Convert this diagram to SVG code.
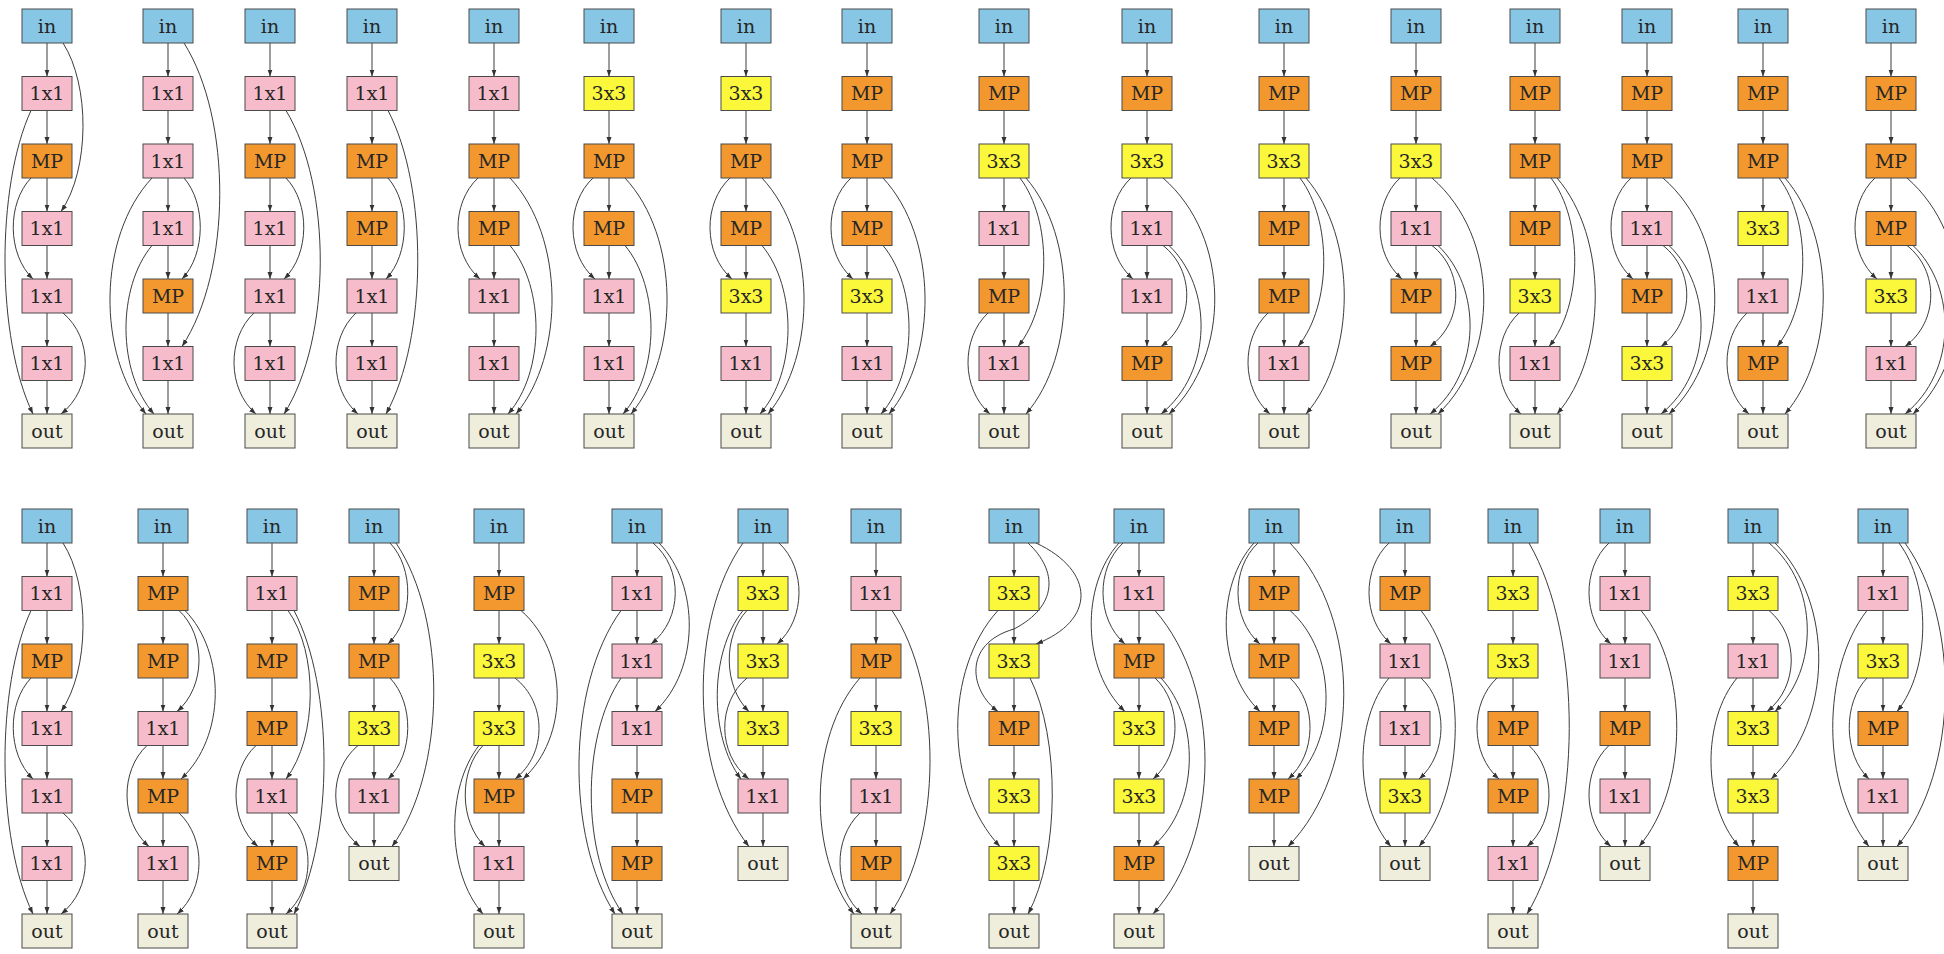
<svg xmlns="http://www.w3.org/2000/svg" width="1944" height="954" viewBox="0 0 1944 954">
<style>
.n rect{stroke:#4a4a4a;stroke-width:1}
.i rect{fill:#88c6e6}
.p rect{fill:#f6bccb}
.m rect{fill:#f2982f}
.y rect{fill:#fbf83c}
.o rect{fill:#efeedc}
text{font-family:"DejaVu Serif","Liberation Serif",serif;font-size:19px;text-anchor:middle;fill:#262626}
.e{fill:none;stroke:#3c3c3c;stroke-width:1;marker-end:url(#a)}
</style>
<defs>
<marker id="a" markerWidth="8" markerHeight="6" refX="7" refY="3" orient="auto" markerUnits="userSpaceOnUse"><path d="M0,0.5L7,3L0,5.5z" fill="#333" stroke="none"/></marker>
<g id="c7"><path d="M0,17V50.5"/><path d="M0,84.5V118"/><path d="M0,152V185.5"/><path d="M0,219.5V253"/><path d="M0,287V320.5"/><path d="M0,354.5V388"/></g>
<g id="c6"><path d="M0,17V50.5"/><path d="M0,84.5V118"/><path d="M0,152V185.5"/><path d="M0,219.5V253"/><path d="M0,287V320.5"/></g>
<g id="eD"><path d="M16,17C43,59 43,143.5 14,185.5"/><path d="M-16,84.5C-51,160.5 -51,312 -14,388"/><path d="M-16,152C-40,177 -40,228 -14,253"/><path d="M16,287C46,312 46,363 14,388"/></g>
<g id="eA"><path d="M-16,152C-43,177 -43,228 -14,253"/><path d="M16,152C71,211 71,329 22,388"/><path d="M16,219.5C51,261.5 51,346 14,388"/></g>
<g id="eB"><path d="M16,152C48,194 48,278.5 14,320.5"/><path d="M22,152C73,211 73,329 22,388"/><path d="M-16,287C-43,312 -43,363 -14,388"/></g>
<g id="eC"><path d="M-16,152C-43,177 -43,228 -14,253"/><path d="M16,152C84,211 84,329 22,388"/><path d="M16,219.5C48,244.5 48,295.5 14,320.5"/><path d="M22,219.5C66,261.5 66,346 14,388"/></g>
</defs>

<!-- TOP ROW -->
<g id="t1" transform="translate(47,26)">
<g class="e" id="t1-edges"><use href="#c7"/><use href="#eD"/></g>
<g id="t1-0" class="n i"><rect x="-25" y="-17" width="50" height="34"/><text y="6.5">in</text></g>
<g id="t1-1" class="n p"><rect x="-25" y="50.5" width="50" height="34"/><text y="74">1x1</text></g>
<g id="t1-2" class="n m"><rect x="-25" y="118" width="50" height="34"/><text y="141.5">MP</text></g>
<g id="t1-3" class="n p"><rect x="-25" y="185.5" width="50" height="34"/><text y="209">1x1</text></g>
<g id="t1-4" class="n p"><rect x="-25" y="253" width="50" height="34"/><text y="276.5">1x1</text></g>
<g id="t1-5" class="n p"><rect x="-25" y="320.5" width="50" height="34"/><text y="344">1x1</text></g>
<g id="t1-6" class="n o"><rect x="-25" y="388" width="50" height="34"/><text y="411.5">out</text></g>
</g>

<g id="t2" transform="translate(168,26)">
<g class="e" id="t2-edges"><use href="#c7"/><path d="M16,17C64,93 64,244.5 14,320.5"/><path d="M16,152C38,177 38,228 14,253"/><path d="M-16,152C-71,211 -71,329 -22,388"/><path d="M-16,219.5C-51,261.5 -51,346 -14,388"/></g>
<g id="t2-0" class="n i"><rect x="-25" y="-17" width="50" height="34"/><text y="6.5">in</text></g>
<g id="t2-1" class="n p"><rect x="-25" y="50.5" width="50" height="34"/><text y="74">1x1</text></g>
<g id="t2-2" class="n p"><rect x="-25" y="118" width="50" height="34"/><text y="141.5">1x1</text></g>
<g id="t2-3" class="n p"><rect x="-25" y="185.5" width="50" height="34"/><text y="209">1x1</text></g>
<g id="t2-4" class="n m"><rect x="-25" y="253" width="50" height="34"/><text y="276.5">MP</text></g>
<g id="t2-5" class="n p"><rect x="-25" y="320.5" width="50" height="34"/><text y="344">1x1</text></g>
<g id="t2-6" class="n o"><rect x="-25" y="388" width="50" height="34"/><text y="411.5">out</text></g>
</g>

<g id="t3" transform="translate(270,26)">
<g class="e" id="t3-edges"><use href="#c7"/><path d="M16,84.5C62,160.5 62,312 14,388"/><path d="M16,152C40,177 40,228 14,253"/><path d="M-16,287C-43,312 -43,363 -14,388"/></g>
<g id="t3-0" class="n i"><rect x="-25" y="-17" width="50" height="34"/><text y="6.5">in</text></g>
<g id="t3-1" class="n p"><rect x="-25" y="50.5" width="50" height="34"/><text y="74">1x1</text></g>
<g id="t3-2" class="n m"><rect x="-25" y="118" width="50" height="34"/><text y="141.5">MP</text></g>
<g id="t3-3" class="n p"><rect x="-25" y="185.5" width="50" height="34"/><text y="209">1x1</text></g>
<g id="t3-4" class="n p"><rect x="-25" y="253" width="50" height="34"/><text y="276.5">1x1</text></g>
<g id="t3-5" class="n p"><rect x="-25" y="320.5" width="50" height="34"/><text y="344">1x1</text></g>
<g id="t3-6" class="n o"><rect x="-25" y="388" width="50" height="34"/><text y="411.5">out</text></g>
</g>

<g id="t4" transform="translate(372,26)">
<g class="e" id="t4-edges"><use href="#c7"/><path d="M16,84.5C56,160.5 56,312 14,388"/><path d="M16,152C38,177 38,228 14,253"/><path d="M-16,287C-43,312 -43,363 -14,388"/></g>
<g id="t4-0" class="n i"><rect x="-25" y="-17" width="50" height="34"/><text y="6.5">in</text></g>
<g id="t4-1" class="n p"><rect x="-25" y="50.5" width="50" height="34"/><text y="74">1x1</text></g>
<g id="t4-2" class="n m"><rect x="-25" y="118" width="50" height="34"/><text y="141.5">MP</text></g>
<g id="t4-3" class="n m"><rect x="-25" y="185.5" width="50" height="34"/><text y="209">MP</text></g>
<g id="t4-4" class="n p"><rect x="-25" y="253" width="50" height="34"/><text y="276.5">1x1</text></g>
<g id="t4-5" class="n p"><rect x="-25" y="320.5" width="50" height="34"/><text y="344">1x1</text></g>
<g id="t4-6" class="n o"><rect x="-25" y="388" width="50" height="34"/><text y="411.5">out</text></g>
</g>

<g id="t5" transform="translate(494,26)">
<g class="e" id="t5-edges"><use href="#c7"/><use href="#eA"/></g>
<g id="t5-0" class="n i"><rect x="-25" y="-17" width="50" height="34"/><text y="6.5">in</text></g>
<g id="t5-1" class="n p"><rect x="-25" y="50.5" width="50" height="34"/><text y="74">1x1</text></g>
<g id="t5-2" class="n m"><rect x="-25" y="118" width="50" height="34"/><text y="141.5">MP</text></g>
<g id="t5-3" class="n m"><rect x="-25" y="185.5" width="50" height="34"/><text y="209">MP</text></g>
<g id="t5-4" class="n p"><rect x="-25" y="253" width="50" height="34"/><text y="276.5">1x1</text></g>
<g id="t5-5" class="n p"><rect x="-25" y="320.5" width="50" height="34"/><text y="344">1x1</text></g>
<g id="t5-6" class="n o"><rect x="-25" y="388" width="50" height="34"/><text y="411.5">out</text></g>
</g>

<g id="t6" transform="translate(609,26)">
<g class="e" id="t6-edges"><use href="#c7"/><use href="#eA"/></g>
<g id="t6-0" class="n i"><rect x="-25" y="-17" width="50" height="34"/><text y="6.5">in</text></g>
<g id="t6-1" class="n y"><rect x="-25" y="50.5" width="50" height="34"/><text y="74">3x3</text></g>
<g id="t6-2" class="n m"><rect x="-25" y="118" width="50" height="34"/><text y="141.5">MP</text></g>
<g id="t6-3" class="n m"><rect x="-25" y="185.5" width="50" height="34"/><text y="209">MP</text></g>
<g id="t6-4" class="n p"><rect x="-25" y="253" width="50" height="34"/><text y="276.5">1x1</text></g>
<g id="t6-5" class="n p"><rect x="-25" y="320.5" width="50" height="34"/><text y="344">1x1</text></g>
<g id="t6-6" class="n o"><rect x="-25" y="388" width="50" height="34"/><text y="411.5">out</text></g>
</g>

<g id="t7" transform="translate(746,26)">
<g class="e" id="t7-edges"><use href="#c7"/><use href="#eA"/></g>
<g id="t7-0" class="n i"><rect x="-25" y="-17" width="50" height="34"/><text y="6.5">in</text></g>
<g id="t7-1" class="n y"><rect x="-25" y="50.5" width="50" height="34"/><text y="74">3x3</text></g>
<g id="t7-2" class="n m"><rect x="-25" y="118" width="50" height="34"/><text y="141.5">MP</text></g>
<g id="t7-3" class="n m"><rect x="-25" y="185.5" width="50" height="34"/><text y="209">MP</text></g>
<g id="t7-4" class="n y"><rect x="-25" y="253" width="50" height="34"/><text y="276.5">3x3</text></g>
<g id="t7-5" class="n p"><rect x="-25" y="320.5" width="50" height="34"/><text y="344">1x1</text></g>
<g id="t7-6" class="n o"><rect x="-25" y="388" width="50" height="34"/><text y="411.5">out</text></g>
</g>

<g id="t8" transform="translate(867,26)">
<g class="e" id="t8-edges"><use href="#c7"/><use href="#eA"/></g>
<g id="t8-0" class="n i"><rect x="-25" y="-17" width="50" height="34"/><text y="6.5">in</text></g>
<g id="t8-1" class="n m"><rect x="-25" y="50.5" width="50" height="34"/><text y="74">MP</text></g>
<g id="t8-2" class="n m"><rect x="-25" y="118" width="50" height="34"/><text y="141.5">MP</text></g>
<g id="t8-3" class="n m"><rect x="-25" y="185.5" width="50" height="34"/><text y="209">MP</text></g>
<g id="t8-4" class="n y"><rect x="-25" y="253" width="50" height="34"/><text y="276.5">3x3</text></g>
<g id="t8-5" class="n p"><rect x="-25" y="320.5" width="50" height="34"/><text y="344">1x1</text></g>
<g id="t8-6" class="n o"><rect x="-25" y="388" width="50" height="34"/><text y="411.5">out</text></g>
</g>

<g id="t9" transform="translate(1004,26)">
<g class="e" id="t9-edges"><use href="#c7"/><use href="#eB"/></g>
<g id="t9-0" class="n i"><rect x="-25" y="-17" width="50" height="34"/><text y="6.5">in</text></g>
<g id="t9-1" class="n m"><rect x="-25" y="50.5" width="50" height="34"/><text y="74">MP</text></g>
<g id="t9-2" class="n y"><rect x="-25" y="118" width="50" height="34"/><text y="141.5">3x3</text></g>
<g id="t9-3" class="n p"><rect x="-25" y="185.5" width="50" height="34"/><text y="209">1x1</text></g>
<g id="t9-4" class="n m"><rect x="-25" y="253" width="50" height="34"/><text y="276.5">MP</text></g>
<g id="t9-5" class="n p"><rect x="-25" y="320.5" width="50" height="34"/><text y="344">1x1</text></g>
<g id="t9-6" class="n o"><rect x="-25" y="388" width="50" height="34"/><text y="411.5">out</text></g>
</g>

<g id="t10" transform="translate(1147,26)">
<g class="e" id="t10-edges"><use href="#c7"/><use href="#eC"/></g>
<g id="t10-0" class="n i"><rect x="-25" y="-17" width="50" height="34"/><text y="6.5">in</text></g>
<g id="t10-1" class="n m"><rect x="-25" y="50.5" width="50" height="34"/><text y="74">MP</text></g>
<g id="t10-2" class="n y"><rect x="-25" y="118" width="50" height="34"/><text y="141.5">3x3</text></g>
<g id="t10-3" class="n p"><rect x="-25" y="185.5" width="50" height="34"/><text y="209">1x1</text></g>
<g id="t10-4" class="n p"><rect x="-25" y="253" width="50" height="34"/><text y="276.5">1x1</text></g>
<g id="t10-5" class="n m"><rect x="-25" y="320.5" width="50" height="34"/><text y="344">MP</text></g>
<g id="t10-6" class="n o"><rect x="-25" y="388" width="50" height="34"/><text y="411.5">out</text></g>
</g>

<g id="t11" transform="translate(1284,26)">
<g class="e" id="t11-edges"><use href="#c7"/><use href="#eB"/></g>
<g id="t11-0" class="n i"><rect x="-25" y="-17" width="50" height="34"/><text y="6.5">in</text></g>
<g id="t11-1" class="n m"><rect x="-25" y="50.5" width="50" height="34"/><text y="74">MP</text></g>
<g id="t11-2" class="n y"><rect x="-25" y="118" width="50" height="34"/><text y="141.5">3x3</text></g>
<g id="t11-3" class="n m"><rect x="-25" y="185.5" width="50" height="34"/><text y="209">MP</text></g>
<g id="t11-4" class="n m"><rect x="-25" y="253" width="50" height="34"/><text y="276.5">MP</text></g>
<g id="t11-5" class="n p"><rect x="-25" y="320.5" width="50" height="34"/><text y="344">1x1</text></g>
<g id="t11-6" class="n o"><rect x="-25" y="388" width="50" height="34"/><text y="411.5">out</text></g>
</g>

<g id="t12" transform="translate(1416,26)">
<g class="e" id="t12-edges"><use href="#c7"/><use href="#eC"/></g>
<g id="t12-0" class="n i"><rect x="-25" y="-17" width="50" height="34"/><text y="6.5">in</text></g>
<g id="t12-1" class="n m"><rect x="-25" y="50.5" width="50" height="34"/><text y="74">MP</text></g>
<g id="t12-2" class="n y"><rect x="-25" y="118" width="50" height="34"/><text y="141.5">3x3</text></g>
<g id="t12-3" class="n p"><rect x="-25" y="185.5" width="50" height="34"/><text y="209">1x1</text></g>
<g id="t12-4" class="n m"><rect x="-25" y="253" width="50" height="34"/><text y="276.5">MP</text></g>
<g id="t12-5" class="n m"><rect x="-25" y="320.5" width="50" height="34"/><text y="344">MP</text></g>
<g id="t12-6" class="n o"><rect x="-25" y="388" width="50" height="34"/><text y="411.5">out</text></g>
</g>

<g id="t13" transform="translate(1535,26)">
<g class="e" id="t13-edges"><use href="#c7"/><use href="#eB"/></g>
<g id="t13-0" class="n i"><rect x="-25" y="-17" width="50" height="34"/><text y="6.5">in</text></g>
<g id="t13-1" class="n m"><rect x="-25" y="50.5" width="50" height="34"/><text y="74">MP</text></g>
<g id="t13-2" class="n m"><rect x="-25" y="118" width="50" height="34"/><text y="141.5">MP</text></g>
<g id="t13-3" class="n m"><rect x="-25" y="185.5" width="50" height="34"/><text y="209">MP</text></g>
<g id="t13-4" class="n y"><rect x="-25" y="253" width="50" height="34"/><text y="276.5">3x3</text></g>
<g id="t13-5" class="n p"><rect x="-25" y="320.5" width="50" height="34"/><text y="344">1x1</text></g>
<g id="t13-6" class="n o"><rect x="-25" y="388" width="50" height="34"/><text y="411.5">out</text></g>
</g>

<g id="t14" transform="translate(1647,26)">
<g class="e" id="t14-edges"><use href="#c7"/><use href="#eC"/></g>
<g id="t14-0" class="n i"><rect x="-25" y="-17" width="50" height="34"/><text y="6.5">in</text></g>
<g id="t14-1" class="n m"><rect x="-25" y="50.5" width="50" height="34"/><text y="74">MP</text></g>
<g id="t14-2" class="n m"><rect x="-25" y="118" width="50" height="34"/><text y="141.5">MP</text></g>
<g id="t14-3" class="n p"><rect x="-25" y="185.5" width="50" height="34"/><text y="209">1x1</text></g>
<g id="t14-4" class="n m"><rect x="-25" y="253" width="50" height="34"/><text y="276.5">MP</text></g>
<g id="t14-5" class="n y"><rect x="-25" y="320.5" width="50" height="34"/><text y="344">3x3</text></g>
<g id="t14-6" class="n o"><rect x="-25" y="388" width="50" height="34"/><text y="411.5">out</text></g>
</g>

<g id="t15" transform="translate(1763,26)">
<g class="e" id="t15-edges"><use href="#c7"/><use href="#eB"/></g>
<g id="t15-0" class="n i"><rect x="-25" y="-17" width="50" height="34"/><text y="6.5">in</text></g>
<g id="t15-1" class="n m"><rect x="-25" y="50.5" width="50" height="34"/><text y="74">MP</text></g>
<g id="t15-2" class="n m"><rect x="-25" y="118" width="50" height="34"/><text y="141.5">MP</text></g>
<g id="t15-3" class="n y"><rect x="-25" y="185.5" width="50" height="34"/><text y="209">3x3</text></g>
<g id="t15-4" class="n p"><rect x="-25" y="253" width="50" height="34"/><text y="276.5">1x1</text></g>
<g id="t15-5" class="n m"><rect x="-25" y="320.5" width="50" height="34"/><text y="344">MP</text></g>
<g id="t15-6" class="n o"><rect x="-25" y="388" width="50" height="34"/><text y="411.5">out</text></g>
</g>

<g id="t16" transform="translate(1891,26)">
<g class="e" id="t16-edges"><use href="#c7"/><use href="#eC"/></g>
<g id="t16-0" class="n i"><rect x="-25" y="-17" width="50" height="34"/><text y="6.5">in</text></g>
<g id="t16-1" class="n m"><rect x="-25" y="50.5" width="50" height="34"/><text y="74">MP</text></g>
<g id="t16-2" class="n m"><rect x="-25" y="118" width="50" height="34"/><text y="141.5">MP</text></g>
<g id="t16-3" class="n m"><rect x="-25" y="185.5" width="50" height="34"/><text y="209">MP</text></g>
<g id="t16-4" class="n y"><rect x="-25" y="253" width="50" height="34"/><text y="276.5">3x3</text></g>
<g id="t16-5" class="n p"><rect x="-25" y="320.5" width="50" height="34"/><text y="344">1x1</text></g>
<g id="t16-6" class="n o"><rect x="-25" y="388" width="50" height="34"/><text y="411.5">out</text></g>
</g>

<!-- BOTTOM ROW -->
<g id="b1" transform="translate(47,526)">
<g class="e" id="b1-edges"><use href="#c7"/><use href="#eD"/></g>
<g id="b1-0" class="n i"><rect x="-25" y="-17" width="50" height="34"/><text y="6.5">in</text></g>
<g id="b1-1" class="n p"><rect x="-25" y="50.5" width="50" height="34"/><text y="74">1x1</text></g>
<g id="b1-2" class="n m"><rect x="-25" y="118" width="50" height="34"/><text y="141.5">MP</text></g>
<g id="b1-3" class="n p"><rect x="-25" y="185.5" width="50" height="34"/><text y="209">1x1</text></g>
<g id="b1-4" class="n p"><rect x="-25" y="253" width="50" height="34"/><text y="276.5">1x1</text></g>
<g id="b1-5" class="n p"><rect x="-25" y="320.5" width="50" height="34"/><text y="344">1x1</text></g>
<g id="b1-6" class="n o"><rect x="-25" y="388" width="50" height="34"/><text y="411.5">out</text></g>
</g>

<g id="b2" transform="translate(163,526)">
<g class="e" id="b2-edges"><use href="#c7"/><path d="M16,84.5C43,109.5 43,160.5 14,185.5"/><path d="M22,84.5C63,126.5 63,211 18,253"/><path d="M-16,219.5C-43,244.5 -43,295.5 -14,320.5"/><path d="M16,287C43,312 43,363 14,388"/></g>
<g id="b2-0" class="n i"><rect x="-25" y="-17" width="50" height="34"/><text y="6.5">in</text></g>
<g id="b2-1" class="n m"><rect x="-25" y="50.5" width="50" height="34"/><text y="74">MP</text></g>
<g id="b2-2" class="n m"><rect x="-25" y="118" width="50" height="34"/><text y="141.5">MP</text></g>
<g id="b2-3" class="n p"><rect x="-25" y="185.5" width="50" height="34"/><text y="209">1x1</text></g>
<g id="b2-4" class="n m"><rect x="-25" y="253" width="50" height="34"/><text y="276.5">MP</text></g>
<g id="b2-5" class="n p"><rect x="-25" y="320.5" width="50" height="34"/><text y="344">1x1</text></g>
<g id="b2-6" class="n o"><rect x="-25" y="388" width="50" height="34"/><text y="411.5">out</text></g>
</g>

<g id="b3" transform="translate(272,526)">
<g class="e" id="b3-edges"><use href="#c7"/><path d="M16,84.5C46,126.5 46,211 14,253"/><path d="M22,84.5C62,160.5 62,312 22,388"/><path d="M-16,219.5C-43,244.5 -43,295.5 -14,320.5"/><path d="M16,287C43,312 43,363 14,388"/></g>
<g id="b3-0" class="n i"><rect x="-25" y="-17" width="50" height="34"/><text y="6.5">in</text></g>
<g id="b3-1" class="n p"><rect x="-25" y="50.5" width="50" height="34"/><text y="74">1x1</text></g>
<g id="b3-2" class="n m"><rect x="-25" y="118" width="50" height="34"/><text y="141.5">MP</text></g>
<g id="b3-3" class="n m"><rect x="-25" y="185.5" width="50" height="34"/><text y="209">MP</text></g>
<g id="b3-4" class="n p"><rect x="-25" y="253" width="50" height="34"/><text y="276.5">1x1</text></g>
<g id="b3-5" class="n m"><rect x="-25" y="320.5" width="50" height="34"/><text y="344">MP</text></g>
<g id="b3-6" class="n o"><rect x="-25" y="388" width="50" height="34"/><text y="411.5">out</text></g>
</g>

<g id="b4" transform="translate(374,526)">
<g class="e" id="b4-edges"><use href="#c6"/><path d="M16,17C40,42 40,93 14,118"/><path d="M22,17C73,93 73,244.5 18,320.5"/><path d="M16,152C40,177 40,228 14,253"/><path d="M-16,219.5C-46,244.5 -46,295.5 -14,320.5"/></g>
<g id="b4-0" class="n i"><rect x="-25" y="-17" width="50" height="34"/><text y="6.5">in</text></g>
<g id="b4-1" class="n m"><rect x="-25" y="50.5" width="50" height="34"/><text y="74">MP</text></g>
<g id="b4-2" class="n m"><rect x="-25" y="118" width="50" height="34"/><text y="141.5">MP</text></g>
<g id="b4-3" class="n y"><rect x="-25" y="185.5" width="50" height="34"/><text y="209">3x3</text></g>
<g id="b4-4" class="n p"><rect x="-25" y="253" width="50" height="34"/><text y="276.5">1x1</text></g>
<g id="b4-5" class="n o"><rect x="-25" y="320.5" width="50" height="34"/><text y="344">out</text></g>
</g>

<g id="b5" transform="translate(499,526)">
<g class="e" id="b5-edges"><use href="#c7"/><path d="M22,84.5C70,126.5 70,211 24,253"/><path d="M16,152C48,177 48,228 16,253"/><path d="M-16,219.5C-40,244.5 -40,295.5 -14,320.5"/><path d="M-20,219.5C-53,261.5 -53,346 -16,388"/></g>
<g id="b5-0" class="n i"><rect x="-25" y="-17" width="50" height="34"/><text y="6.5">in</text></g>
<g id="b5-1" class="n m"><rect x="-25" y="50.5" width="50" height="34"/><text y="74">MP</text></g>
<g id="b5-2" class="n y"><rect x="-25" y="118" width="50" height="34"/><text y="141.5">3x3</text></g>
<g id="b5-3" class="n y"><rect x="-25" y="185.5" width="50" height="34"/><text y="209">3x3</text></g>
<g id="b5-4" class="n m"><rect x="-25" y="253" width="50" height="34"/><text y="276.5">MP</text></g>
<g id="b5-5" class="n p"><rect x="-25" y="320.5" width="50" height="34"/><text y="344">1x1</text></g>
<g id="b5-6" class="n o"><rect x="-25" y="388" width="50" height="34"/><text y="411.5">out</text></g>
</g>

<g id="b6" transform="translate(637,526)">
<g class="e" id="b6-edges"><use href="#c7"/><path d="M16,17C46,42 46,93 14,118"/><path d="M22,17C63,59 63,143.5 18,185.5"/><path d="M-16,84.5C-71,160.5 -71,312 -22,388"/><path d="M-16,152C-56,211 -56,329 -14,388"/></g>
<g id="b6-0" class="n i"><rect x="-25" y="-17" width="50" height="34"/><text y="6.5">in</text></g>
<g id="b6-1" class="n p"><rect x="-25" y="50.5" width="50" height="34"/><text y="74">1x1</text></g>
<g id="b6-2" class="n p"><rect x="-25" y="118" width="50" height="34"/><text y="141.5">1x1</text></g>
<g id="b6-3" class="n p"><rect x="-25" y="185.5" width="50" height="34"/><text y="209">1x1</text></g>
<g id="b6-4" class="n m"><rect x="-25" y="253" width="50" height="34"/><text y="276.5">MP</text></g>
<g id="b6-5" class="n m"><rect x="-25" y="320.5" width="50" height="34"/><text y="344">MP</text></g>
<g id="b6-6" class="n o"><rect x="-25" y="388" width="50" height="34"/><text y="411.5">out</text></g>
</g>

<g id="b7" transform="translate(763,526)">
<g class="e" id="b7-edges"><use href="#c6"/><path d="M16,17C43,42 43,93 14,118"/><path d="M-20,17C-74,93 -74,244.5 -14,320.5"/><path d="M-16,84.5C-40,109.5 -40,160.5 -14,185.5"/><path d="M-20,84.5C-54,126.5 -54,211 -22,253"/><path d="M-16,152C-46,177 -46,228 -14,253"/></g>
<g id="b7-0" class="n i"><rect x="-25" y="-17" width="50" height="34"/><text y="6.5">in</text></g>
<g id="b7-1" class="n y"><rect x="-25" y="50.5" width="50" height="34"/><text y="74">3x3</text></g>
<g id="b7-2" class="n y"><rect x="-25" y="118" width="50" height="34"/><text y="141.5">3x3</text></g>
<g id="b7-3" class="n y"><rect x="-25" y="185.5" width="50" height="34"/><text y="209">3x3</text></g>
<g id="b7-4" class="n p"><rect x="-25" y="253" width="50" height="34"/><text y="276.5">1x1</text></g>
<g id="b7-5" class="n o"><rect x="-25" y="320.5" width="50" height="34"/><text y="344">out</text></g>
</g>

<g id="b8" transform="translate(876,526)">
<g class="e" id="b8-edges"><use href="#c7"/><path d="M16,84.5C67,160.5 67,312 14,388"/><path d="M-16,152C-68,211 -68,329 -22,388"/><path d="M-16,287C-43,312 -43,363 -14,388"/></g>
<g id="b8-0" class="n i"><rect x="-25" y="-17" width="50" height="34"/><text y="6.5">in</text></g>
<g id="b8-1" class="n p"><rect x="-25" y="50.5" width="50" height="34"/><text y="74">1x1</text></g>
<g id="b8-2" class="n m"><rect x="-25" y="118" width="50" height="34"/><text y="141.5">MP</text></g>
<g id="b8-3" class="n y"><rect x="-25" y="185.5" width="50" height="34"/><text y="209">3x3</text></g>
<g id="b8-4" class="n p"><rect x="-25" y="253" width="50" height="34"/><text y="276.5">1x1</text></g>
<g id="b8-5" class="n m"><rect x="-25" y="320.5" width="50" height="34"/><text y="344">MP</text></g>
<g id="b8-6" class="n o"><rect x="-25" y="388" width="50" height="34"/><text y="411.5">out</text></g>
</g>

<g id="b9" transform="translate(1014,526)">
<g class="e" id="b9-edges"><use href="#c7"/><path d="M22,17C82,45 82,95 22,118"/><path d="M14,17C44,45 44,80 0,103C-52,118 -44,165 -16,185.5"/><path d="M-16,84.5C-70,143.5 -70,261.5 -14,320.5"/><path d="M16,152C46,211 46,329 14,388"/></g>
<g id="b9-0" class="n i"><rect x="-25" y="-17" width="50" height="34"/><text y="6.5">in</text></g>
<g id="b9-1" class="n y"><rect x="-25" y="50.5" width="50" height="34"/><text y="74">3x3</text></g>
<g id="b9-2" class="n y"><rect x="-25" y="118" width="50" height="34"/><text y="141.5">3x3</text></g>
<g id="b9-3" class="n m"><rect x="-25" y="185.5" width="50" height="34"/><text y="209">MP</text></g>
<g id="b9-4" class="n y"><rect x="-25" y="253" width="50" height="34"/><text y="276.5">3x3</text></g>
<g id="b9-5" class="n y"><rect x="-25" y="320.5" width="50" height="34"/><text y="344">3x3</text></g>
<g id="b9-6" class="n o"><rect x="-25" y="388" width="50" height="34"/><text y="411.5">out</text></g>
</g>

<g id="b10" transform="translate(1139,526)">
<g class="e" id="b10-edges"><use href="#c7"/><path d="M-16,17C-43,42 -43,93 -14,118"/><path d="M-20,17C-58,59 -58,143.5 -14,185.5"/><path d="M16,84.5C83,160.5 83,312 14,388"/><path d="M16,152C43,177 43,228 14,253"/><path d="M22,152C61,194 61,278.5 14,320.5"/></g>
<g id="b10-0" class="n i"><rect x="-25" y="-17" width="50" height="34"/><text y="6.5">in</text></g>
<g id="b10-1" class="n p"><rect x="-25" y="50.5" width="50" height="34"/><text y="74">1x1</text></g>
<g id="b10-2" class="n m"><rect x="-25" y="118" width="50" height="34"/><text y="141.5">MP</text></g>
<g id="b10-3" class="n y"><rect x="-25" y="185.5" width="50" height="34"/><text y="209">3x3</text></g>
<g id="b10-4" class="n y"><rect x="-25" y="253" width="50" height="34"/><text y="276.5">3x3</text></g>
<g id="b10-5" class="n m"><rect x="-25" y="320.5" width="50" height="34"/><text y="344">MP</text></g>
<g id="b10-6" class="n o"><rect x="-25" y="388" width="50" height="34"/><text y="411.5">out</text></g>
</g>

<g id="b11" transform="translate(1274,526)">
<g class="e" id="b11-edges"><use href="#c6"/><path d="M-16,17C-43,42 -43,93 -14,118"/><path d="M-20,17C-58,59 -58,143.5 -14,185.5"/><path d="M16,17C88,93 88,244.5 14,320.5"/><path d="M16,84.5C63,126.5 63,211 22,253"/><path d="M16,152C43,177 43,228 14,253"/></g>
<g id="b11-0" class="n i"><rect x="-25" y="-17" width="50" height="34"/><text y="6.5">in</text></g>
<g id="b11-1" class="n m"><rect x="-25" y="50.5" width="50" height="34"/><text y="74">MP</text></g>
<g id="b11-2" class="n m"><rect x="-25" y="118" width="50" height="34"/><text y="141.5">MP</text></g>
<g id="b11-3" class="n m"><rect x="-25" y="185.5" width="50" height="34"/><text y="209">MP</text></g>
<g id="b11-4" class="n m"><rect x="-25" y="253" width="50" height="34"/><text y="276.5">MP</text></g>
<g id="b11-5" class="n o"><rect x="-25" y="320.5" width="50" height="34"/><text y="344">out</text></g>
</g>

<g id="b12" transform="translate(1405,526)">
<g class="e" id="b12-edges"><use href="#c6"/><path d="M-16,17C-43,42 -43,93 -14,118"/><path d="M16,84.5C62,143.5 62,261.5 14,320.5"/><path d="M16,152C43,177 43,228 14,253"/><path d="M-16,152C-51,194 -51,278.5 -14,320.5"/></g>
<g id="b12-0" class="n i"><rect x="-25" y="-17" width="50" height="34"/><text y="6.5">in</text></g>
<g id="b12-1" class="n m"><rect x="-25" y="50.5" width="50" height="34"/><text y="74">MP</text></g>
<g id="b12-2" class="n p"><rect x="-25" y="118" width="50" height="34"/><text y="141.5">1x1</text></g>
<g id="b12-3" class="n p"><rect x="-25" y="185.5" width="50" height="34"/><text y="209">1x1</text></g>
<g id="b12-4" class="n y"><rect x="-25" y="253" width="50" height="34"/><text y="276.5">3x3</text></g>
<g id="b12-5" class="n o"><rect x="-25" y="320.5" width="50" height="34"/><text y="344">out</text></g>
</g>

<g id="b13" transform="translate(1513,526)">
<g class="e" id="b13-edges"><use href="#c7"/><path d="M16,17C70,110 70,295 14,388"/><path d="M-16,152C-43,177 -43,228 -14,253"/><path d="M16,219.5C43,244.5 43,295.5 14,320.5"/></g>
<g id="b13-0" class="n i"><rect x="-25" y="-17" width="50" height="34"/><text y="6.5">in</text></g>
<g id="b13-1" class="n y"><rect x="-25" y="50.5" width="50" height="34"/><text y="74">3x3</text></g>
<g id="b13-2" class="n y"><rect x="-25" y="118" width="50" height="34"/><text y="141.5">3x3</text></g>
<g id="b13-3" class="n m"><rect x="-25" y="185.5" width="50" height="34"/><text y="209">MP</text></g>
<g id="b13-4" class="n m"><rect x="-25" y="253" width="50" height="34"/><text y="276.5">MP</text></g>
<g id="b13-5" class="n p"><rect x="-25" y="320.5" width="50" height="34"/><text y="344">1x1</text></g>
<g id="b13-6" class="n o"><rect x="-25" y="388" width="50" height="34"/><text y="411.5">out</text></g>
</g>

<g id="b14" transform="translate(1625,526)">
<g class="e" id="b14-edges"><use href="#c6"/><path d="M-16,17C-43,42 -43,93 -14,118"/><path d="M16,84.5C64,143.5 64,261.5 14,320.5"/><path d="M-16,219.5C-43,244.5 -43,295.5 -14,320.5"/></g>
<g id="b14-0" class="n i"><rect x="-25" y="-17" width="50" height="34"/><text y="6.5">in</text></g>
<g id="b14-1" class="n p"><rect x="-25" y="50.5" width="50" height="34"/><text y="74">1x1</text></g>
<g id="b14-2" class="n p"><rect x="-25" y="118" width="50" height="34"/><text y="141.5">1x1</text></g>
<g id="b14-3" class="n m"><rect x="-25" y="185.5" width="50" height="34"/><text y="209">MP</text></g>
<g id="b14-4" class="n p"><rect x="-25" y="253" width="50" height="34"/><text y="276.5">1x1</text></g>
<g id="b14-5" class="n o"><rect x="-25" y="320.5" width="50" height="34"/><text y="344">out</text></g>
</g>

<g id="b15" transform="translate(1753,526)">
<g class="e" id="b15-edges"><use href="#c7"/><path d="M16,17C66,59 66,143.5 22,185.5"/><path d="M22,17C81,76 81,194 18,253"/><path d="M16,84.5C46,109.5 46,160.5 14,185.5"/><path d="M-16,152C-51,194 -51,278.5 -14,320.5"/></g>
<g id="b15-0" class="n i"><rect x="-25" y="-17" width="50" height="34"/><text y="6.5">in</text></g>
<g id="b15-1" class="n y"><rect x="-25" y="50.5" width="50" height="34"/><text y="74">3x3</text></g>
<g id="b15-2" class="n p"><rect x="-25" y="118" width="50" height="34"/><text y="141.5">1x1</text></g>
<g id="b15-3" class="n y"><rect x="-25" y="185.5" width="50" height="34"/><text y="209">3x3</text></g>
<g id="b15-4" class="n y"><rect x="-25" y="253" width="50" height="34"/><text y="276.5">3x3</text></g>
<g id="b15-5" class="n m"><rect x="-25" y="320.5" width="50" height="34"/><text y="344">MP</text></g>
<g id="b15-6" class="n o"><rect x="-25" y="388" width="50" height="34"/><text y="411.5">out</text></g>
</g>

<g id="b16" transform="translate(1883,526)">
<g class="e" id="b16-edges"><use href="#c6"/><path d="M16,17C48,59 48,143.5 14,185.5"/><path d="M22,17C77,93 77,244.5 14,320.5"/><path d="M-16,84.5C-62,143.5 -62,261.5 -14,320.5"/><path d="M-16,152C-40,177 -40,228 -14,253"/></g>
<g id="b16-0" class="n i"><rect x="-25" y="-17" width="50" height="34"/><text y="6.5">in</text></g>
<g id="b16-1" class="n p"><rect x="-25" y="50.5" width="50" height="34"/><text y="74">1x1</text></g>
<g id="b16-2" class="n y"><rect x="-25" y="118" width="50" height="34"/><text y="141.5">3x3</text></g>
<g id="b16-3" class="n m"><rect x="-25" y="185.5" width="50" height="34"/><text y="209">MP</text></g>
<g id="b16-4" class="n p"><rect x="-25" y="253" width="50" height="34"/><text y="276.5">1x1</text></g>
<g id="b16-5" class="n o"><rect x="-25" y="320.5" width="50" height="34"/><text y="344">out</text></g>
</g>
</svg>
